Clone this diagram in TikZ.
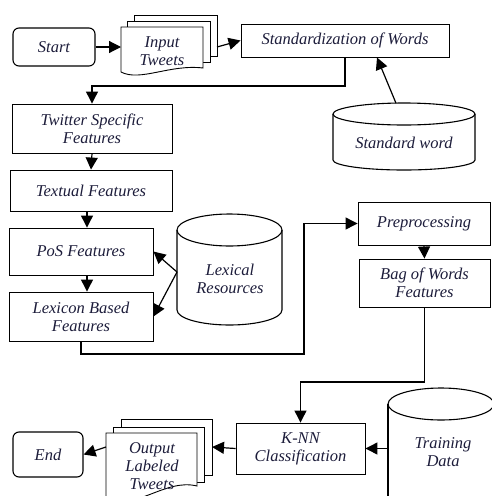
\documentclass[tikz,border=0pt]{standalone}
\usepackage{fontspec}
\setmainfont{Liberation Serif}
\usetikzlibrary{arrows.meta}
\definecolor{txt}{RGB}{28,28,58}
\begin{document}
\begin{tikzpicture}[x=1pt,y=-1pt,
  lbl/.style={font=\fontsize{16.5}{18}\selectfont\itshape, text=txt, align=center, inner sep=0pt},
  box/.style={lbl, draw=black, line width=0.9pt, minimum width=#1, inner sep=0pt},
  term/.style={box=#1, rounded corners=6pt, line width=1.1pt},
  arr/.style={draw=black, line width=1.2pt, -{Triangle[length=12pt,width=12pt]}},
  ln/.style={draw=black, line width=1.2pt},
  pg/.style={draw=black, line width=0.9pt, fill=white}
]
\useasboundingbox (0,0) rectangle (491,496);

% terminals
\node[term=82, minimum height=38] (start) at (54,47) {Start};
\node[term=70, minimum height=45] (end) at (48,454.5) {End};

% input tweets (multi-document)
\draw[pg] (134,15) rectangle (217,56);
\draw[pg] (127,21) rectangle (210,62);
\draw[pg] (121,27) -- (203,27) -- (203,68) .. controls (170,64) and (140,82) .. (121,72) -- cycle;
\node[lbl] (input) at (162,51) {Input\\Tweets};
\coordinate (inL) at (121,47);
\coordinate (inR) at (217,47);

% output labeled tweets
\draw[pg] (121,419) rectangle (212,475);
\draw[pg] (113,427) rectangle (204,482);
\draw[pg] (106,433) -- (197,433) -- (197,486) .. controls (165,478) and (135,512) .. (106,498) -- cycle;
\node[lbl] (output) at (152,466) {Output\\Labeled\\Tweets};
\coordinate (outL) at (106,447);
\coordinate (outR) at (212,447);

% boxes
\node[box=208, minimum height=33] (std) at (345,40.5) {Standardization of Words};
\node[box=160, minimum height=49] (twitter) at (92,128.5) {Twitter Specific\\Features};
\node[box=162, minimum height=41] (textual) at (91,190.5) {Textual Features};
\node[box=144, minimum height=47] (pos) at (81,251.5) {PoS Features};
\node[box=144, minimum height=49] (lexicon) at (81,316.5) {Lexicon Based\\Features};
\node[box=132, minimum height=43] (preproc) at (424,223.5) {Preprocessing};
\node[box=131, minimum height=48] (bow) at (424.5,283) {Bag of Words\\Features};
\node[box=129, minimum height=51] (knn) at (300.5,448.5) {K-NN\\Classification};

% cylinders
\draw[ln, line width=1.1pt] (333,114) -- (333,160) arc[start angle=180, end angle=0, x radius=71, y radius=10] -- (475,114);
\draw[ln, line width=1.1pt] (404,114) ellipse[x radius=71, y radius=11];
\node[lbl] (stdword) at (404,143) {Standard word};
\coordinate (swTop) at (396,103.2);

\draw[ln, line width=1.1pt] (177,230) -- (177,310) arc[start angle=180, end angle=0, x radius=52.5, y radius=15] -- (282,230);
\draw[ln, line width=1.1pt] (229.5,230) ellipse[x radius=52.5, y radius=16];
\node[lbl] (lexres) at (230,279) {Lexical\\Resources};
\coordinate (lrL) at (177,272);

\draw[ln, line width=1.1pt] (388,404) -- (388,500) (494,404) -- (494,500);
\draw[ln, line width=1.1pt] (441,404) ellipse[x radius=53, y radius=16];
\node[lbl] (train) at (443,452) {Training\\Data};
\coordinate (trL) at (388,448.5);

% connectors
\draw[arr] (start.east) -- (inL);
\draw[arr] (inR) -- (std.west);
\coordinate (j1) at (345,86);
\draw[arr] (std.south) -- (j1) -| (twitter.north);
\draw[arr] (swTop) -- (377,57.5);
\draw[arr] (twitter.south) -- (textual.north);
\draw[arr] (textual.south -| 87,0) -- (pos.north -| 87,0);
\draw[arr] (pos.south -| 87,0) -- (lexicon.north -| 87,0);
\draw[arr] (lrL) -- (pos.east);
\draw[arr] (lrL) -- (lexicon.east);
\coordinate (j2) at (304,354);
\draw[arr] (lexicon.south) |- (j2) |- (preproc.west);
\draw[arr] (preproc.south) -- (bow.north);
\coordinate (j3) at (424.5,382);
\draw[arr] (bow.south) -- (j3) -| (knn.north);
\draw[arr] (trL) -- (knn.east);
\draw[arr] (knn.west) -- (outR);
\draw[arr] (outL) -- (end.east);
\end{tikzpicture}
\end{document}
